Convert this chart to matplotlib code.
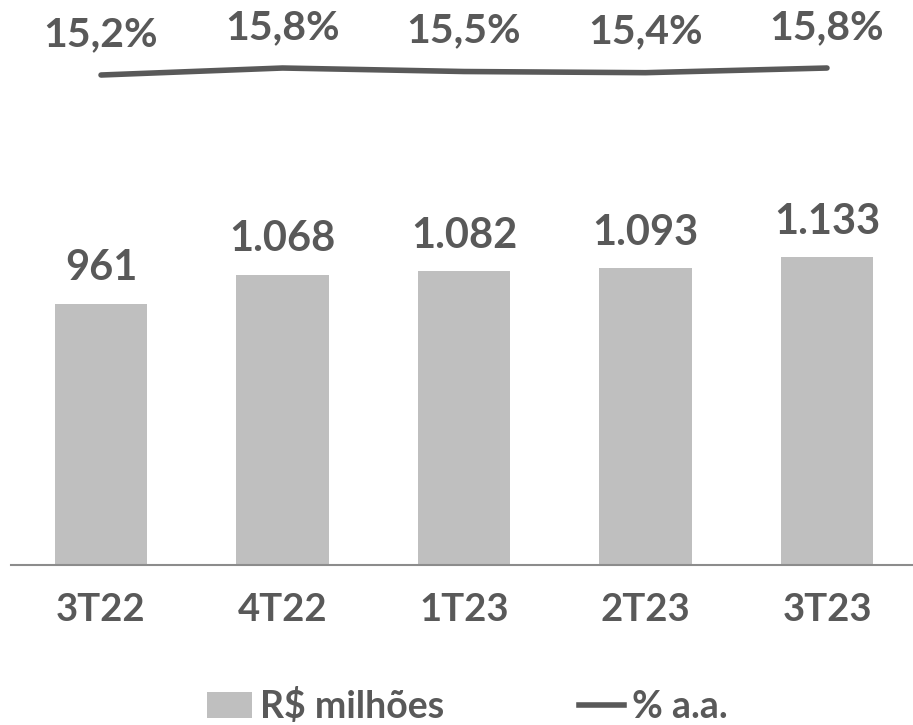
import matplotlib
matplotlib.use("Agg")
import matplotlib.pyplot as plt
from matplotlib.patches import Patch
from matplotlib.lines import Line2D

quarters = ["3T22", "4T22", "1T23", "2T23", "3T23"]
saldo = [961, 1068, 1082, 1093, 1133]
saldo_labels = ["961", "1.068", "1.082", "1.093", "1.133"]
taxa = [15.2, 15.8, 15.5, 15.4, 15.8]
taxa_labels = ["15,2%", "15,8%", "15,5%", "15,4%", "15,8%"]

BAR = "#bfbfbf"
INK = "#595959"
AXIS = "#8c8c8c"

plt.rcParams["font.family"] = ["Lato", "DejaVu Sans"]

fig = plt.figure(figsize=(9.13, 7.25), dpi=100)
ax = fig.add_axes([11 / 913, 160 / 725, 902 / 913, 565 / 725])
x = list(range(len(quarters)))

ax.bar(x, saldo, width=0.51, color=BAR, zorder=2)
for xi, v, lab in zip(x, saldo, saldo_labels):
    ax.annotate(lab, (xi, v), xytext=(0, 12), textcoords="offset points",
                ha="center", va="bottom", fontsize=30, fontweight="bold", color=INK)

ax.set_xlim(-0.496, 4.474)
ax.set_ylim(0, 2081)
ax.set_yticks([])
ax.set_xticks(x)
ax.set_xticklabels(quarters, fontsize=27.5, fontweight="bold", color=INK)
ax.tick_params(axis="x", length=0, pad=20)
for s in ("top", "right", "left"):
    ax.spines[s].set_visible(False)
ax.spines["bottom"].set_color(AXIS)
ax.spines["bottom"].set_linewidth(1.5)

ax2 = ax.twinx()
ax2.plot(x, taxa, color=INK, lw=4, solid_capstyle="round", zorder=3)
for xi, v, lab in zip(x, taxa, taxa_labels):
    ax2.annotate(lab, (xi, v), xytext=(0, 16), textcoords="offset points",
                 ha="center", va="bottom", fontsize=29.5, fontweight="bold", color=INK)
ax2.set_ylim(-26.8, 21.63)
ax2.set_yticks([])
for s in ("top", "right", "left", "bottom"):
    ax2.spines[s].set_visible(False)

handles = [Patch(facecolor=BAR, edgecolor="none", label="R$ milhões"),
           Line2D([0], [0], color=INK, lw=4, label="% a.a.")]
fig.legend(handles=handles, loc="center", bbox_to_anchor=(0.512, 0.026), ncol=2,
           frameon=False, prop={"family": "Lato", "weight": "bold", "size": 27},
           labelcolor=INK, handlelength=1.2, handletextpad=0.2, columnspacing=3.6)

fig.savefig("out.png", dpi=100)
